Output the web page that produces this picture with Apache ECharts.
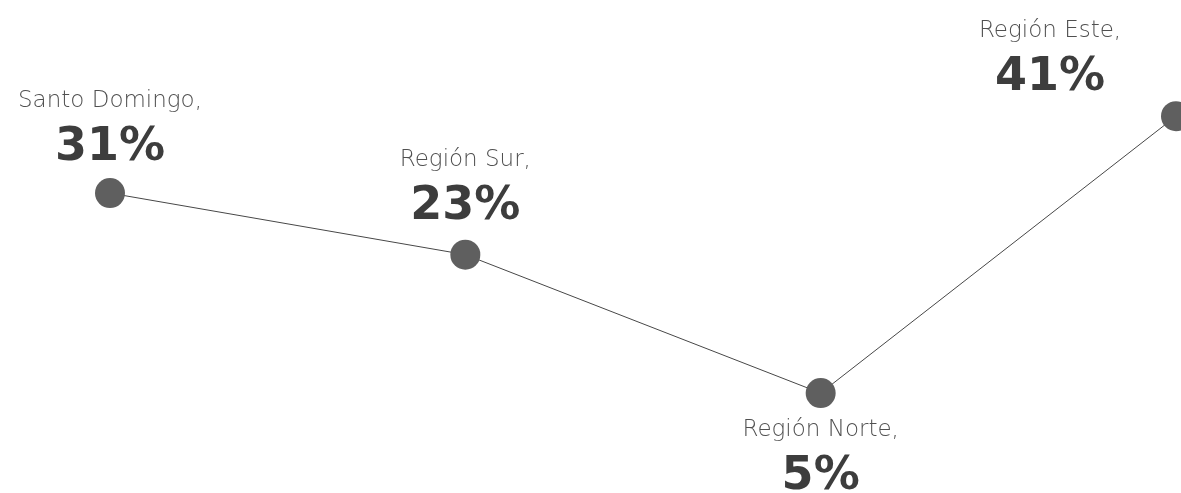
<!DOCTYPE html>
<html>
<head>
<meta charset="utf-8">
<script src="https://cdn.jsdelivr.net/npm/echarts@6/dist/echarts.min.js"></script>
<style>
  html, body { margin: 0; padding: 0; background: #fff; }
  #chart { width: 1181px; height: 493px; }
</style>
</head>
<body>
<div id="chart"></div>
<script>
// datos por región
const regiones = ['Santo Domingo', 'Región Sur', 'Región Norte', 'Región Este'];
const porcentajes = [31, 23, 5, 41];
const posEtiqueta = ['top', 'top', 'bottom', 'top'];

let chart = echarts.init(document.getElementById('chart'));

let distancias = [3, 6, 2, -4];
let desplaz = [[0, 0], [0, 0], [0, 0], [-126, 0]];

let puntos = porcentajes.map(function (v, i) {
  return {
    value: v,
    label: { position: posEtiqueta[i], distance: distancias[i], offset: desplaz[i] }
  };
});

chart.setOption({
  animation: false,
  grid: { left: 110, right: 5, top: 47, bottom: 61.5 },
  xAxis: {
    type: 'category',
    boundaryGap: false,
    data: regiones,
    show: false
  },
  yAxis: {
    type: 'value',
    min: 0,
    max: 50,
    show: false
  },
  series: [
    {
      type: 'line',
      data: puntos,
      clip: false,
      symbol: 'circle',
      symbolSize: 30,
      itemStyle: { color: '#5f5f5f' },
      lineStyle: { color: '#474747', width: 1 },
      label: {
        show: true,
        formatter: function (p) {
          return '{a|' + regiones[p.dataIndex] + ',}\n{b|' + p.value + '%}';
        },
        rich: {
          a: {
            fontFamily: 'DejaVu Sans',
            fontWeight: 200,
            fontSize: 23,
            color: '#505050',
            lineHeight: 40,
            align: 'center'
          },
          b: {
            fontFamily: 'DejaVu Sans',
            fontWeight: 'bold',
            fontSize: 46,
            color: '#3d3d3d',
            lineHeight: 54,
            align: 'center'
          }
        }
      }
    }
  ]
});
</script>
</body>
</html>
